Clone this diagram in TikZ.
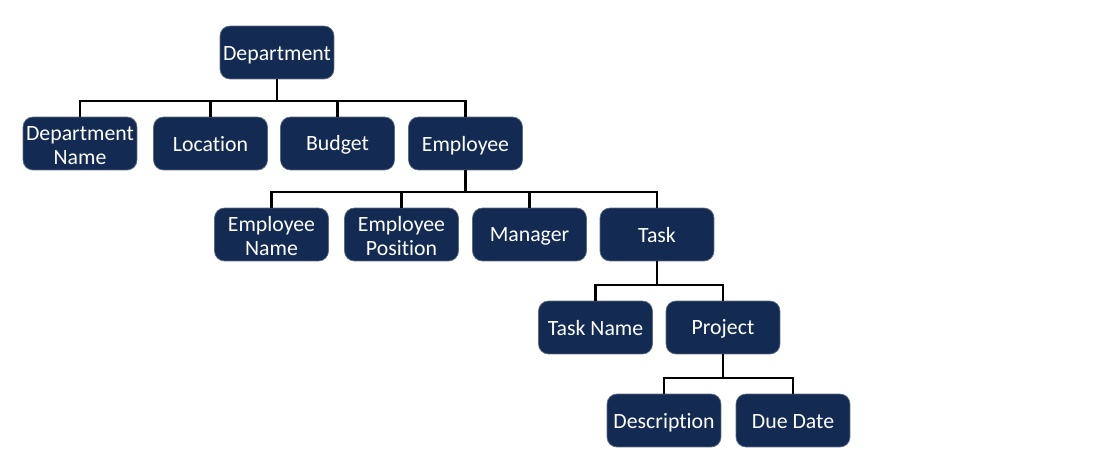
\documentclass[tikz,border=0pt]{standalone}
\usepackage{fontspec}
\setmainfont{Carlito}[Ligatures=CommonOff]
\definecolor{navybox}{RGB}{19,42,82}
\newcommand{\lineup}{\rule{0pt}{12.5pt}}
\tikzset{
	attr/.style={draw=navybox!70!white, line width=0.4pt, fill=navybox, text=white, rounded corners=0.2cm,
		minimum width=2.28cm, minimum height=1.06cm, inner sep=0.5pt, align=center,
		execute at begin node={\rule{0pt}{1.8ex}}, execute at end node={\vphantom{Ay}},
		font=\fontsize{12.4}{13.5}\selectfont},
	link/.style={line width=1.2pt, black}
}
\begin{document}
\begin{tikzpicture}[x=0.02cm,y=-0.02cm]
			\useasboundingbox (0,0) rectangle (1093,460);
			% top
			\node[attr] (dep) at (277,52.5) {Department};
			% second row
			\node[attr] (dname) at (80,143.5) {\lineup Department\\Name};
			\node[attr] (loc) at (210.5,143.5) {Location};
			\node[attr] (bud) at (337.5,143.5) {Budget};
			\node[attr] (emp) at (465.5,143.5) {Employee};
			% third row
			\node[attr] (ename) at (271.5,234.5) {\lineup Employee\\Name};
			\node[attr] (epos) at (401.5,234.5) {\lineup Employee\\Position};
			\node[attr] (man) at (529.5,234.5) {Manager};
			\node[attr] (task) at (657,234.5) {Task};
			% fourth row
			\node[attr] (tname) at (595.5,327.5) {Task Name};
			\node[attr] (proj) at (723,327.5) {Project};
			% fifth row
			\node[attr] (desc) at (664,420.5) {Description};
			\node[attr] (due) at (793,420.5) {Due Date};
			% links
			\foreach \c in {dname,loc,bud,emp}
				\draw[link] (dep.south) -- ++(0,22) -| (\c.north);
			\foreach \c in {ename,epos,man,task}
				\draw[link] (emp.south) -- ++(0,22) -| (\c.north);
			\foreach \c in {tname,proj}
				\draw[link] (task.south) -- ++(0,24) -| (\c.north);
			\foreach \c in {desc,due}
				\draw[link] (proj.south) -- ++(0,24) -| (\c.north);
		\end{tikzpicture}
\end{document}
